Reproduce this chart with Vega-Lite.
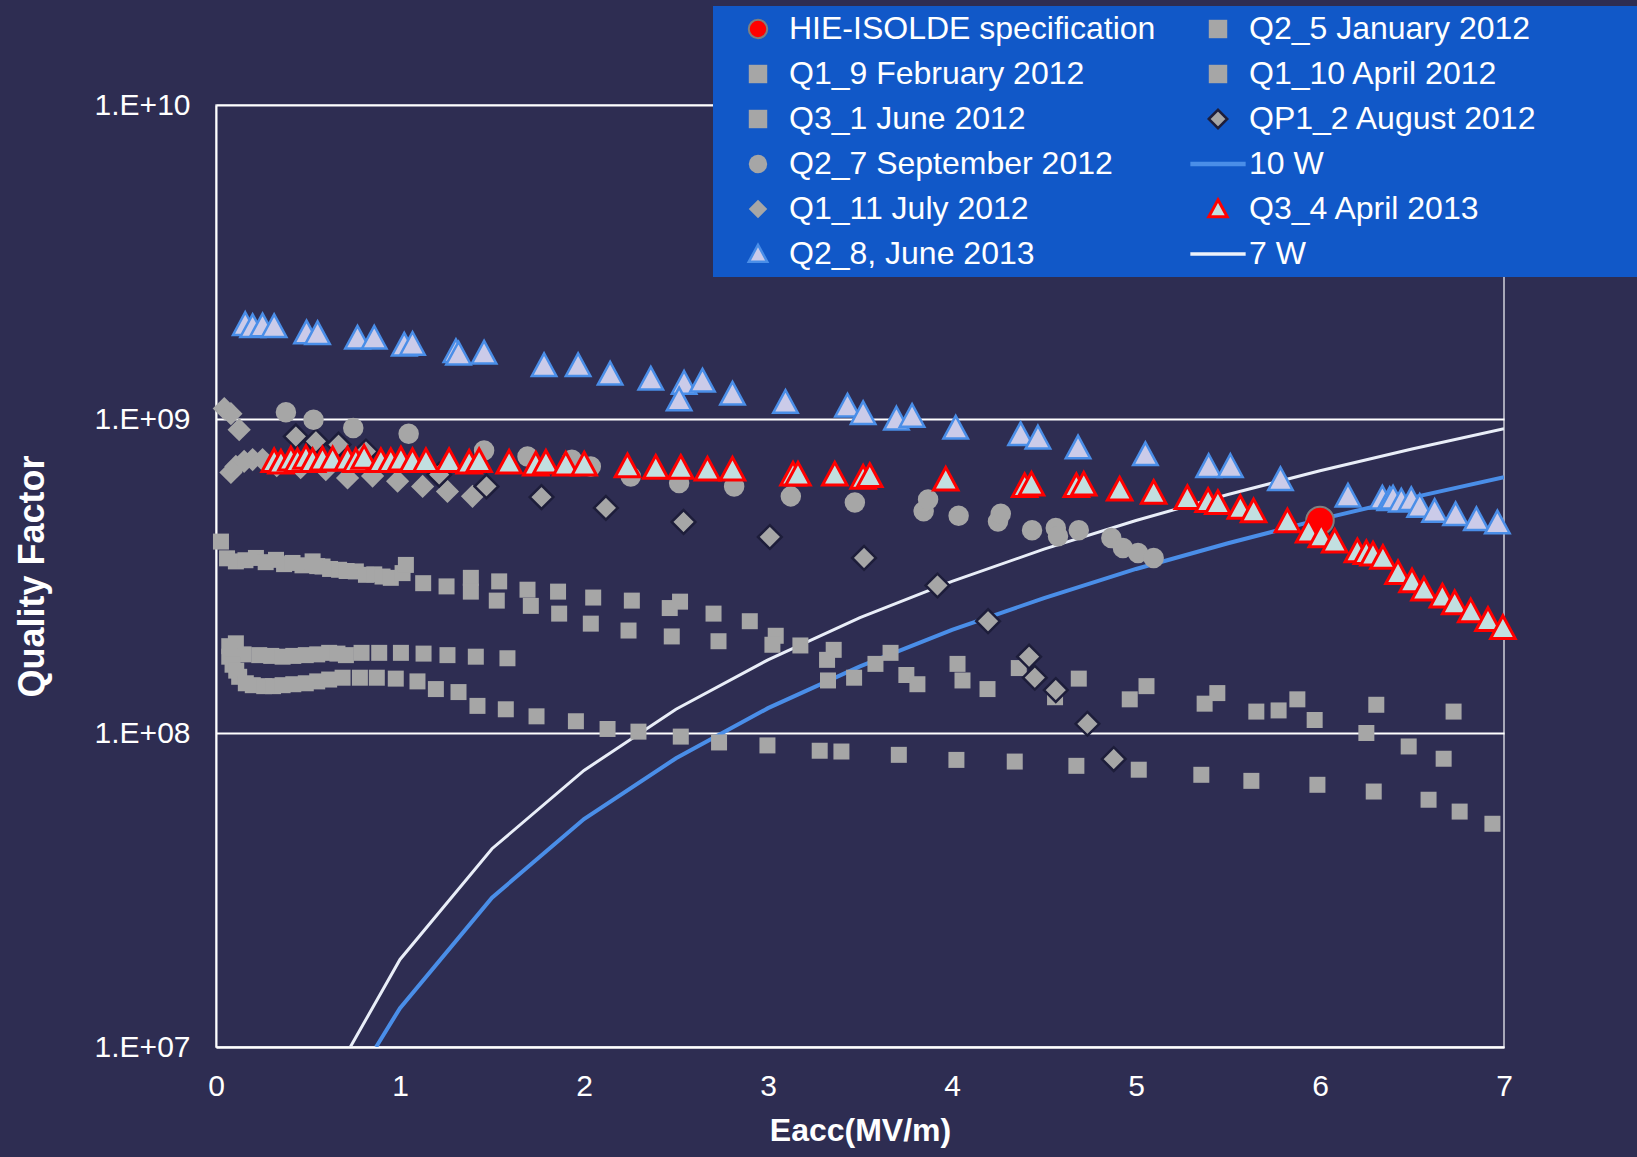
{
  "$schema": "https://vega.github.io/schema/vega-lite/v6.json",
  "width": 1288,
  "height": 942,
  "autosize": "none",
  "padding": {"left": 216, "top": 105, "right": 133, "bottom": 110},
  "background": "#2e2d52",
  "config": {
    "font": "Liberation Sans",
    "view": {"stroke": "#cfd0da", "strokeWidth": 1.5},
    "legend": {
      "orient": "none",
      "legendX": 497,
      "legendY": -99,
      "columns": 2,
      "columnPadding": 24,
      "rowPadding": 13,
      "fillColor": "#1158c8",
      "padding": 7,
      "labelFont": "Liberation Sans",
      "labelFontSize": 32,
      "labelColor": "#ffffff",
      "labelOffset": 15,
      "symbolOffset": 22,
      "symbolSize": 340,
      "labelLimit": 1000,
      "symbolOpacity": 1
    }
  },
  "datasets": {
    "w10": [
      {"E": 0.87, "Q": 1.0e7}, {"E": 1, "Q": 1.33e7}, {"E": 1.5, "Q": 2.99e7}, {"E": 2, "Q": 5.32e7},
      {"E": 2.5, "Q": 8.31e7}, {"E": 3, "Q": 1.2e8}, {"E": 3.5, "Q": 1.63e8}, {"E": 4, "Q": 2.13e8},
      {"E": 4.5, "Q": 2.69e8}, {"E": 5, "Q": 3.33e8}, {"E": 5.5, "Q": 4.02e8}, {"E": 6, "Q": 4.79e8},
      {"E": 6.5, "Q": 5.62e8}, {"E": 7, "Q": 6.52e8}
    ],
    "w7": [
      {"E": 0.73, "Q": 1.0e7}, {"E": 1, "Q": 1.9e7}, {"E": 1.5, "Q": 4.28e7}, {"E": 2, "Q": 7.6e7},
      {"E": 2.5, "Q": 1.19e8}, {"E": 3, "Q": 1.71e8}, {"E": 3.5, "Q": 2.33e8}, {"E": 4, "Q": 3.04e8},
      {"E": 4.5, "Q": 3.85e8}, {"E": 5, "Q": 4.75e8}, {"E": 5.5, "Q": 5.75e8}, {"E": 6, "Q": 6.84e8},
      {"E": 6.5, "Q": 8.03e8}, {"E": 7, "Q": 9.31e8}
    ],
    "pts": [
      {"s": "Q2_5 January 2012", "E": 0.027, "Q": 4.07e8},
      {"s": "Q2_5 January 2012", "E": 0.06, "Q": 3.6e8},
      {"s": "Q2_5 January 2012", "E": 0.108, "Q": 3.52e8},
      {"s": "Q2_5 January 2012", "E": 0.16, "Q": 3.55e8},
      {"s": "Q2_5 January 2012", "E": 0.217, "Q": 3.61e8},
      {"s": "Q2_5 January 2012", "E": 0.27, "Q": 3.5e8},
      {"s": "Q2_5 January 2012", "E": 0.326, "Q": 3.56e8},
      {"s": "Q2_5 January 2012", "E": 0.37, "Q": 3.45e8},
      {"s": "Q2_5 January 2012", "E": 0.416, "Q": 3.48e8},
      {"s": "Q2_5 January 2012", "E": 0.47, "Q": 3.42e8},
      {"s": "Q2_5 January 2012", "E": 0.525, "Q": 3.52e8},
      {"s": "Q2_5 January 2012", "E": 0.55, "Q": 3.4e8},
      {"s": "Q2_5 January 2012", "E": 0.579, "Q": 3.39e8},
      {"s": "Q2_5 January 2012", "E": 0.62, "Q": 3.33e8},
      {"s": "Q2_5 January 2012", "E": 0.669, "Q": 3.31e8},
      {"s": "Q2_5 January 2012", "E": 0.71, "Q": 3.28e8},
      {"s": "Q2_5 January 2012", "E": 0.76, "Q": 3.27e8},
      {"s": "Q2_5 January 2012", "E": 0.815, "Q": 3.19e8},
      {"s": "Q2_5 January 2012", "E": 0.86, "Q": 3.2e8},
      {"s": "Q2_5 January 2012", "E": 0.905, "Q": 3.15e8},
      {"s": "Q2_5 January 2012", "E": 0.95, "Q": 3.12e8},
      {"s": "Q2_5 January 2012", "E": 1.014, "Q": 3.23e8},
      {"s": "Q2_5 January 2012", "E": 1.032, "Q": 3.43e8},
      {"s": "Q2_5 January 2012", "E": 1.126, "Q": 3.0e8},
      {"s": "Q2_5 January 2012", "E": 1.253, "Q": 2.93e8},
      {"s": "Q2_5 January 2012", "E": 1.385, "Q": 3.12e8},
      {"s": "Q2_5 January 2012", "E": 1.539, "Q": 3.04e8},
      {"s": "Q2_5 January 2012", "E": 1.693, "Q": 2.86e8},
      {"s": "Q2_5 January 2012", "E": 1.859, "Q": 2.82e8},
      {"s": "Q2_5 January 2012", "E": 2.05, "Q": 2.7e8},
      {"s": "Q2_5 January 2012", "E": 2.26, "Q": 2.64e8},
      {"s": "Q2_5 January 2012", "E": 2.466, "Q": 2.5e8},
      {"s": "Q2_5 January 2012", "E": 2.522, "Q": 2.62e8},
      {"s": "Q2_5 January 2012", "E": 2.704, "Q": 2.4e8},
      {"s": "Q2_5 January 2012", "E": 2.901, "Q": 2.27e8},
      {"s": "Q2_5 January 2012", "E": 3.042, "Q": 2.04e8},
      {"s": "Q2_5 January 2012", "E": 3.176, "Q": 1.9e8},
      {"s": "Q2_5 January 2012", "E": 3.357, "Q": 1.84e8},
      {"s": "Q2_5 January 2012", "E": 3.584, "Q": 1.66e8},
      {"s": "Q2_5 January 2012", "E": 3.666, "Q": 1.8e8},
      {"s": "Q2_5 January 2012", "E": 4.03, "Q": 1.66e8},
      {"s": "Q2_5 January 2012", "E": 4.363, "Q": 1.61e8},
      {"s": "Q1_10 April 2012", "E": 1.385, "Q": 2.82e8},
      {"s": "Q1_10 April 2012", "E": 1.526, "Q": 2.64e8},
      {"s": "Q1_10 April 2012", "E": 1.711, "Q": 2.54e8},
      {"s": "Q1_10 April 2012", "E": 1.865, "Q": 2.4e8},
      {"s": "Q1_10 April 2012", "E": 2.037, "Q": 2.23e8},
      {"s": "Q1_10 April 2012", "E": 2.242, "Q": 2.12e8},
      {"s": "Q1_10 April 2012", "E": 2.477, "Q": 2.03e8},
      {"s": "Q1_10 April 2012", "E": 2.731, "Q": 1.96e8},
      {"s": "Q1_10 April 2012", "E": 3.024, "Q": 1.91e8},
      {"s": "Q1_10 April 2012", "E": 3.321, "Q": 1.71e8},
      {"s": "Q1_10 April 2012", "E": 3.326, "Q": 1.47e8},
      {"s": "Q1_10 April 2012", "E": 3.468, "Q": 1.5e8},
      {"s": "Q1_10 April 2012", "E": 3.752, "Q": 1.53e8},
      {"s": "Q1_10 April 2012", "E": 3.812, "Q": 1.43e8},
      {"s": "Q1_10 April 2012", "E": 4.057, "Q": 1.47e8},
      {"s": "Q1_10 April 2012", "E": 4.193, "Q": 1.38e8},
      {"s": "Q1_10 April 2012", "E": 4.56, "Q": 1.3e8},
      {"s": "Q1_10 April 2012", "E": 4.689, "Q": 1.49e8},
      {"s": "Q1_10 April 2012", "E": 4.966, "Q": 1.28e8},
      {"s": "Q1_10 April 2012", "E": 5.057, "Q": 1.41e8},
      {"s": "Q1_10 April 2012", "E": 5.373, "Q": 1.24e8},
      {"s": "Q1_10 April 2012", "E": 5.442, "Q": 1.34e8},
      {"s": "Q1_10 April 2012", "E": 5.654, "Q": 1.17e8},
      {"s": "Q1_10 April 2012", "E": 5.775, "Q": 1.18e8},
      {"s": "Q1_10 April 2012", "E": 5.877, "Q": 1.28e8},
      {"s": "Q1_10 April 2012", "E": 5.971, "Q": 1.1e8},
      {"s": "Q1_10 April 2012", "E": 6.252, "Q": 1.0e8},
      {"s": "Q1_10 April 2012", "E": 6.306, "Q": 1.23e8},
      {"s": "Q1_10 April 2012", "E": 6.482, "Q": 9.06e7},
      {"s": "Q1_10 April 2012", "E": 6.672, "Q": 8.28e7},
      {"s": "Q1_10 April 2012", "E": 6.726, "Q": 1.17e8},
      {"s": "Q1_9 February 2012", "E": 0.072, "Q": 1.89e8},
      {"s": "Q1_9 February 2012", "E": 0.108, "Q": 1.93e8},
      {"s": "Q1_9 February 2012", "E": 0.15, "Q": 1.78e8},
      {"s": "Q1_9 February 2012", "E": 0.235, "Q": 1.77e8},
      {"s": "Q1_9 February 2012", "E": 0.3, "Q": 1.76e8},
      {"s": "Q1_9 February 2012", "E": 0.362, "Q": 1.75e8},
      {"s": "Q1_9 February 2012", "E": 0.42, "Q": 1.76e8},
      {"s": "Q1_9 February 2012", "E": 0.488, "Q": 1.77e8},
      {"s": "Q1_9 February 2012", "E": 0.55, "Q": 1.78e8},
      {"s": "Q1_9 February 2012", "E": 0.615, "Q": 1.8e8},
      {"s": "Q1_9 February 2012", "E": 0.66, "Q": 1.79e8},
      {"s": "Q1_9 February 2012", "E": 0.706, "Q": 1.77e8},
      {"s": "Q1_9 February 2012", "E": 0.791, "Q": 1.8e8},
      {"s": "Q1_9 February 2012", "E": 0.887, "Q": 1.8e8},
      {"s": "Q1_9 February 2012", "E": 1.005, "Q": 1.8e8},
      {"s": "Q1_9 February 2012", "E": 1.128, "Q": 1.79e8},
      {"s": "Q1_9 February 2012", "E": 1.258, "Q": 1.77e8},
      {"s": "Q1_9 February 2012", "E": 1.412, "Q": 1.75e8},
      {"s": "Q1_9 February 2012", "E": 1.584, "Q": 1.73e8},
      {"s": "Q3_1 June 2012", "E": 0.072, "Q": 1.75e8},
      {"s": "Q3_1 June 2012", "E": 0.09, "Q": 1.65e8},
      {"s": "Q3_1 June 2012", "E": 0.11, "Q": 1.58e8},
      {"s": "Q3_1 June 2012", "E": 0.126, "Q": 1.51e8},
      {"s": "Q3_1 June 2012", "E": 0.162, "Q": 1.44e8},
      {"s": "Q3_1 June 2012", "E": 0.2, "Q": 1.42e8},
      {"s": "Q3_1 June 2012", "E": 0.262, "Q": 1.41e8},
      {"s": "Q3_1 June 2012", "E": 0.31, "Q": 1.41e8},
      {"s": "Q3_1 June 2012", "E": 0.362, "Q": 1.42e8},
      {"s": "Q3_1 June 2012", "E": 0.42, "Q": 1.43e8},
      {"s": "Q3_1 June 2012", "E": 0.488, "Q": 1.44e8},
      {"s": "Q3_1 June 2012", "E": 0.55, "Q": 1.46e8},
      {"s": "Q3_1 June 2012", "E": 0.615, "Q": 1.48e8},
      {"s": "Q3_1 June 2012", "E": 0.688, "Q": 1.5e8},
      {"s": "Q3_1 June 2012", "E": 0.782, "Q": 1.5e8},
      {"s": "Q3_1 June 2012", "E": 0.874, "Q": 1.5e8},
      {"s": "Q3_1 June 2012", "E": 0.977, "Q": 1.49e8},
      {"s": "Q3_1 June 2012", "E": 1.095, "Q": 1.46e8},
      {"s": "Q3_1 June 2012", "E": 1.195, "Q": 1.38e8},
      {"s": "Q3_1 June 2012", "E": 1.318, "Q": 1.35e8},
      {"s": "Q3_1 June 2012", "E": 1.421, "Q": 1.22e8},
      {"s": "Q3_1 June 2012", "E": 1.575, "Q": 1.19e8},
      {"s": "Q3_1 June 2012", "E": 1.742, "Q": 1.13e8},
      {"s": "Q3_1 June 2012", "E": 1.956, "Q": 1.09e8},
      {"s": "Q3_1 June 2012", "E": 2.128, "Q": 1.03e8},
      {"s": "Q3_1 June 2012", "E": 2.296, "Q": 1.01e8},
      {"s": "Q3_1 June 2012", "E": 2.526, "Q": 9.74e7},
      {"s": "Q3_1 June 2012", "E": 2.734, "Q": 9.33e7},
      {"s": "Q3_1 June 2012", "E": 2.997, "Q": 9.13e7},
      {"s": "Q3_1 June 2012", "E": 3.281, "Q": 8.78e7},
      {"s": "Q3_1 June 2012", "E": 3.399, "Q": 8.73e7},
      {"s": "Q3_1 June 2012", "E": 3.711, "Q": 8.52e7},
      {"s": "Q3_1 June 2012", "E": 4.024, "Q": 8.21e7},
      {"s": "Q3_1 June 2012", "E": 4.341, "Q": 8.11e7},
      {"s": "Q3_1 June 2012", "E": 4.676, "Q": 7.86e7},
      {"s": "Q3_1 June 2012", "E": 5.015, "Q": 7.64e7},
      {"s": "Q3_1 June 2012", "E": 5.355, "Q": 7.36e7},
      {"s": "Q3_1 June 2012", "E": 5.627, "Q": 7.04e7},
      {"s": "Q3_1 June 2012", "E": 5.986, "Q": 6.84e7},
      {"s": "Q3_1 June 2012", "E": 6.292, "Q": 6.51e7},
      {"s": "Q3_1 June 2012", "E": 6.59, "Q": 6.13e7},
      {"s": "Q3_1 June 2012", "E": 6.759, "Q": 5.62e7},
      {"s": "Q3_1 June 2012", "E": 6.937, "Q": 5.14e7},
      {"s": "Q1_11 July 2012", "E": 0.045, "Q": 1.08e9},
      {"s": "Q1_11 July 2012", "E": 0.081, "Q": 1.04e9},
      {"s": "Q1_11 July 2012", "E": 0.126, "Q": 9.25e8},
      {"s": "Q1_11 July 2012", "E": 0.081, "Q": 6.76e8},
      {"s": "Q1_11 July 2012", "E": 0.108, "Q": 7.06e8},
      {"s": "Q1_11 July 2012", "E": 0.153, "Q": 7.33e8},
      {"s": "Q1_11 July 2012", "E": 0.199, "Q": 7.43e8},
      {"s": "Q1_11 July 2012", "E": 0.253, "Q": 7.43e8},
      {"s": "Q1_11 July 2012", "E": 0.33, "Q": 7.1e8},
      {"s": "Q1_11 July 2012", "E": 0.46, "Q": 7.0e8},
      {"s": "Q1_11 July 2012", "E": 0.597, "Q": 6.9e8},
      {"s": "Q1_11 July 2012", "E": 0.715, "Q": 6.49e8},
      {"s": "Q1_11 July 2012", "E": 0.851, "Q": 6.58e8},
      {"s": "Q1_11 July 2012", "E": 0.987, "Q": 6.34e8},
      {"s": "Q1_11 July 2012", "E": 1.123, "Q": 6.1e8},
      {"s": "Q1_11 July 2012", "E": 1.258, "Q": 5.88e8},
      {"s": "Q1_11 July 2012", "E": 1.394, "Q": 5.67e8},
      {"s": "QP1_2 August 2012", "E": 0.434, "Q": 8.8e8},
      {"s": "QP1_2 August 2012", "E": 0.543, "Q": 8.49e8},
      {"s": "QP1_2 August 2012", "E": 0.666, "Q": 8.29e8},
      {"s": "QP1_2 August 2012", "E": 0.815, "Q": 7.88e8},
      {"s": "QP1_2 August 2012", "E": 1.213, "Q": 6.65e8},
      {"s": "QP1_2 August 2012", "E": 1.47, "Q": 6.1e8},
      {"s": "QP1_2 August 2012", "E": 1.769, "Q": 5.64e8},
      {"s": "QP1_2 August 2012", "E": 2.119, "Q": 5.21e8},
      {"s": "QP1_2 August 2012", "E": 2.541, "Q": 4.7e8},
      {"s": "QP1_2 August 2012", "E": 3.01, "Q": 4.21e8},
      {"s": "QP1_2 August 2012", "E": 3.522, "Q": 3.61e8},
      {"s": "QP1_2 August 2012", "E": 3.921, "Q": 2.95e8},
      {"s": "QP1_2 August 2012", "E": 4.196, "Q": 2.27e8},
      {"s": "QP1_2 August 2012", "E": 4.419, "Q": 1.75e8},
      {"s": "QP1_2 August 2012", "E": 4.45, "Q": 1.5e8},
      {"s": "QP1_2 August 2012", "E": 4.564, "Q": 1.37e8},
      {"s": "QP1_2 August 2012", "E": 4.736, "Q": 1.07e8},
      {"s": "QP1_2 August 2012", "E": 4.879, "Q": 8.26e7},
      {"s": "Q2_7 September 2012", "E": 0.38, "Q": 1.05e9},
      {"s": "Q2_7 September 2012", "E": 0.53, "Q": 9.95e8},
      {"s": "Q2_7 September 2012", "E": 0.746, "Q": 9.36e8},
      {"s": "Q2_7 September 2012", "E": 1.047, "Q": 8.98e8},
      {"s": "Q2_7 September 2012", "E": 1.457, "Q": 7.94e8},
      {"s": "Q2_7 September 2012", "E": 1.693, "Q": 7.6e8},
      {"s": "Q2_7 September 2012", "E": 1.934, "Q": 7.42e8},
      {"s": "Q2_7 September 2012", "E": 2.037, "Q": 7.06e8},
      {"s": "Q2_7 September 2012", "E": 2.254, "Q": 6.56e8},
      {"s": "Q2_7 September 2012", "E": 2.517, "Q": 6.25e8},
      {"s": "Q2_7 September 2012", "E": 2.816, "Q": 6.1e8},
      {"s": "Q2_7 September 2012", "E": 3.124, "Q": 5.67e8},
      {"s": "Q2_7 September 2012", "E": 3.472, "Q": 5.42e8},
      {"s": "Q2_7 September 2012", "E": 3.846, "Q": 5.08e8},
      {"s": "Q2_7 September 2012", "E": 3.87, "Q": 5.54e8},
      {"s": "Q2_7 September 2012", "E": 4.036, "Q": 4.92e8},
      {"s": "Q2_7 September 2012", "E": 4.25, "Q": 4.72e8},
      {"s": "Q2_7 September 2012", "E": 4.265, "Q": 4.99e8},
      {"s": "Q2_7 September 2012", "E": 4.435, "Q": 4.42e8},
      {"s": "Q2_7 September 2012", "E": 4.564, "Q": 4.5e8},
      {"s": "Q2_7 September 2012", "E": 4.576, "Q": 4.23e8},
      {"s": "Q2_7 September 2012", "E": 4.689, "Q": 4.42e8},
      {"s": "Q2_7 September 2012", "E": 4.866, "Q": 4.18e8},
      {"s": "Q2_7 September 2012", "E": 4.929, "Q": 3.88e8},
      {"s": "Q2_7 September 2012", "E": 5.011, "Q": 3.74e8},
      {"s": "Q2_7 September 2012", "E": 5.096, "Q": 3.61e8},
      {"s": "HIE-ISOLDE specification", "E": 6.0, "Q": 4.75e8},
      {"s": "Q2_8, June 2013", "E": 0.159, "Q": 2.0e9},
      {"s": "Q2_8, June 2013", "E": 0.199, "Q": 1.97e9},
      {"s": "Q2_8, June 2013", "E": 0.253, "Q": 1.98e9},
      {"s": "Q2_8, June 2013", "E": 0.316, "Q": 1.97e9},
      {"s": "Q2_8, June 2013", "E": 0.492, "Q": 1.88e9},
      {"s": "Q2_8, June 2013", "E": 0.552, "Q": 1.87e9},
      {"s": "Q2_8, June 2013", "E": 0.769, "Q": 1.81e9},
      {"s": "Q2_8, June 2013", "E": 0.86, "Q": 1.81e9},
      {"s": "Q2_8, June 2013", "E": 1.023, "Q": 1.72e9},
      {"s": "Q2_8, June 2013", "E": 1.068, "Q": 1.73e9},
      {"s": "Q2_8, June 2013", "E": 1.304, "Q": 1.64e9},
      {"s": "Q2_8, June 2013", "E": 1.318, "Q": 1.61e9},
      {"s": "Q2_8, June 2013", "E": 1.457, "Q": 1.62e9},
      {"s": "Q2_8, June 2013", "E": 1.783, "Q": 1.48e9},
      {"s": "Q2_8, June 2013", "E": 1.968, "Q": 1.48e9},
      {"s": "Q2_8, June 2013", "E": 2.142, "Q": 1.39e9},
      {"s": "Q2_8, June 2013", "E": 2.363, "Q": 1.34e9},
      {"s": "Q2_8, June 2013", "E": 2.544, "Q": 1.3e9},
      {"s": "Q2_8, June 2013", "E": 2.517, "Q": 1.15e9},
      {"s": "Q2_8, June 2013", "E": 2.644, "Q": 1.32e9},
      {"s": "Q2_8, June 2013", "E": 2.807, "Q": 1.2e9},
      {"s": "Q2_8, June 2013", "E": 3.095, "Q": 1.13e9},
      {"s": "Q2_8, June 2013", "E": 3.432, "Q": 1.1e9},
      {"s": "Q2_8, June 2013", "E": 3.517, "Q": 1.04e9},
      {"s": "Q2_8, June 2013", "E": 3.698, "Q": 1.0e9},
      {"s": "Q2_8, June 2013", "E": 3.783, "Q": 1.02e9},
      {"s": "Q2_8, June 2013", "E": 4.02, "Q": 9.35e8},
      {"s": "Q2_8, June 2013", "E": 4.373, "Q": 8.92e8},
      {"s": "Q2_8, June 2013", "E": 4.467, "Q": 8.7e8},
      {"s": "Q2_8, June 2013", "E": 4.685, "Q": 8.09e8},
      {"s": "Q2_8, June 2013", "E": 5.051, "Q": 7.7e8},
      {"s": "Q2_8, June 2013", "E": 5.395, "Q": 7.06e8},
      {"s": "Q2_8, June 2013", "E": 5.513, "Q": 7.06e8},
      {"s": "Q2_8, June 2013", "E": 5.785, "Q": 6.41e8},
      {"s": "Q2_8, June 2013", "E": 6.152, "Q": 5.68e8},
      {"s": "Q2_8, June 2013", "E": 6.339, "Q": 5.6e8},
      {"s": "Q2_8, June 2013", "E": 6.379, "Q": 5.54e8},
      {"s": "Q2_8, June 2013", "E": 6.397, "Q": 5.6e8},
      {"s": "Q2_8, June 2013", "E": 6.442, "Q": 5.48e8},
      {"s": "Q2_8, June 2013", "E": 6.496, "Q": 5.54e8},
      {"s": "Q2_8, June 2013", "E": 6.542, "Q": 5.27e8},
      {"s": "Q2_8, June 2013", "E": 6.623, "Q": 5.08e8},
      {"s": "Q2_8, June 2013", "E": 6.737, "Q": 4.96e8},
      {"s": "Q2_8, June 2013", "E": 6.85, "Q": 4.78e8},
      {"s": "Q2_8, June 2013", "E": 6.964, "Q": 4.67e8},
      {"s": "Q3_4 April 2013", "E": 0.316, "Q": 7.34e8},
      {"s": "Q3_4 April 2013", "E": 0.353, "Q": 7.26e8},
      {"s": "Q3_4 April 2013", "E": 0.407, "Q": 7.43e8},
      {"s": "Q3_4 April 2013", "E": 0.443, "Q": 7.34e8},
      {"s": "Q3_4 April 2013", "E": 0.489, "Q": 7.52e8},
      {"s": "Q3_4 April 2013", "E": 0.525, "Q": 7.34e8},
      {"s": "Q3_4 April 2013", "E": 0.579, "Q": 7.43e8},
      {"s": "Q3_4 April 2013", "E": 0.634, "Q": 7.43e8},
      {"s": "Q3_4 April 2013", "E": 0.715, "Q": 7.43e8},
      {"s": "Q3_4 April 2013", "E": 0.76, "Q": 7.34e8},
      {"s": "Q3_4 April 2013", "E": 0.805, "Q": 7.52e8},
      {"s": "Q3_4 April 2013", "E": 0.896, "Q": 7.34e8},
      {"s": "Q3_4 April 2013", "E": 0.95, "Q": 7.34e8},
      {"s": "Q3_4 April 2013", "E": 1.005, "Q": 7.43e8},
      {"s": "Q3_4 April 2013", "E": 1.068, "Q": 7.34e8},
      {"s": "Q3_4 April 2013", "E": 1.141, "Q": 7.34e8},
      {"s": "Q3_4 April 2013", "E": 1.267, "Q": 7.34e8},
      {"s": "Q3_4 April 2013", "E": 1.376, "Q": 7.26e8},
      {"s": "Q3_4 April 2013", "E": 1.43, "Q": 7.34e8},
      {"s": "Q3_4 April 2013", "E": 1.593, "Q": 7.26e8},
      {"s": "Q3_4 April 2013", "E": 1.738, "Q": 7.16e8},
      {"s": "Q3_4 April 2013", "E": 1.793, "Q": 7.26e8},
      {"s": "Q3_4 April 2013", "E": 1.901, "Q": 7.16e8},
      {"s": "Q3_4 April 2013", "E": 2.001, "Q": 7.16e8},
      {"s": "Q3_4 April 2013", "E": 2.236, "Q": 7.07e8},
      {"s": "Q3_4 April 2013", "E": 2.39, "Q": 6.99e8},
      {"s": "Q3_4 April 2013", "E": 2.526, "Q": 6.99e8},
      {"s": "Q3_4 April 2013", "E": 2.671, "Q": 6.9e8},
      {"s": "Q3_4 April 2013", "E": 2.807, "Q": 6.9e8},
      {"s": "Q3_4 April 2013", "E": 3.136, "Q": 6.65e8},
      {"s": "Q3_4 April 2013", "E": 3.163, "Q": 6.65e8},
      {"s": "Q3_4 April 2013", "E": 3.363, "Q": 6.65e8},
      {"s": "Q3_4 April 2013", "E": 3.517, "Q": 6.5e8},
      {"s": "Q3_4 April 2013", "E": 3.553, "Q": 6.58e8},
      {"s": "Q3_4 April 2013", "E": 3.966, "Q": 6.41e8},
      {"s": "Q3_4 April 2013", "E": 4.395, "Q": 6.11e8},
      {"s": "Q3_4 April 2013", "E": 4.432, "Q": 6.18e8},
      {"s": "Q3_4 April 2013", "E": 4.676, "Q": 6.11e8},
      {"s": "Q3_4 April 2013", "E": 4.716, "Q": 6.18e8},
      {"s": "Q3_4 April 2013", "E": 4.911, "Q": 5.96e8},
      {"s": "Q3_4 April 2013", "E": 5.096, "Q": 5.82e8},
      {"s": "Q3_4 April 2013", "E": 5.279, "Q": 5.6e8},
      {"s": "Q3_4 April 2013", "E": 5.392, "Q": 5.48e8},
      {"s": "Q3_4 April 2013", "E": 5.445, "Q": 5.4e8},
      {"s": "Q3_4 April 2013", "E": 5.567, "Q": 5.21e8},
      {"s": "Q3_4 April 2013", "E": 5.639, "Q": 5.08e8},
      {"s": "Q3_4 April 2013", "E": 5.823, "Q": 4.72e8},
      {"s": "Q3_4 April 2013", "E": 5.938, "Q": 4.38e8},
      {"s": "Q3_4 April 2013", "E": 6.007, "Q": 4.23e8},
      {"s": "Q3_4 April 2013", "E": 6.08, "Q": 4.07e8},
      {"s": "Q3_4 April 2013", "E": 6.203, "Q": 3.79e8},
      {"s": "Q3_4 April 2013", "E": 6.252, "Q": 3.74e8},
      {"s": "Q3_4 April 2013", "E": 6.288, "Q": 3.7e8},
      {"s": "Q3_4 April 2013", "E": 6.342, "Q": 3.61e8},
      {"s": "Q3_4 April 2013", "E": 6.424, "Q": 3.23e8},
      {"s": "Q3_4 April 2013", "E": 6.5, "Q": 3.04e8},
      {"s": "Q3_4 April 2013", "E": 6.565, "Q": 2.86e8},
      {"s": "Q3_4 April 2013", "E": 6.665, "Q": 2.72e8},
      {"s": "Q3_4 April 2013", "E": 6.732, "Q": 2.59e8},
      {"s": "Q3_4 April 2013", "E": 6.819, "Q": 2.44e8},
      {"s": "Q3_4 April 2013", "E": 6.913, "Q": 2.29e8},
      {"s": "Q3_4 April 2013", "E": 6.994, "Q": 2.16e8}
    ]
  },
  "encoding": {
    "x": {
      "field": "E", "type": "quantitative",
      "scale": {"domain": [0, 7], "nice": false, "zero": false},
      "axis": {
        "values": [0, 1, 2, 3, 4, 5, 6, 7], "format": "d", "title": "Eacc(MV/m)",
        "grid": false, "ticks": false, "domainColor": "#ffffff", "domainWidth": 2,
        "labelFont": "Liberation Sans", "labelFontSize": 30, "labelColor": "#ffffff", "labelPadding": 24,
        "labelFlush": false, "labelOverlap": false,
        "titleFont": "Liberation Sans", "titleFontSize": 32, "titleFontWeight": "bold", "titleColor": "#ffffff", "titlePadding": 14
      }
    },
    "y": {
      "field": "Q", "type": "quantitative",
      "scale": {"type": "log", "domain": [1e7, 1e10], "nice": false},
      "axis": {
        "values": [1e7, 1e8, 1e9, 1e10],
        "labelExpr": "datum.value >= 5e9 ? '1.E+10' : datum.value >= 5e8 ? '1.E+09' : datum.value >= 5e7 ? '1.E+08' : '1.E+07'",
        "title": "Quality Factor",
        "grid": true, "gridColor": "#ffffff", "gridWidth": 2, "gridOpacity": 1,
        "ticks": false, "domainColor": "#ffffff", "domainWidth": 2,
        "labelFont": "Liberation Sans", "labelFontSize": 30, "labelColor": "#ffffff", "labelPadding": 26,
        "labelFlush": false, "labelOverlap": false,
        "titleFont": "Liberation Sans", "titleFontSize": 36, "titleFontWeight": "bold", "titleColor": "#ffffff", "titlePadding": 43
      }
    }
  },
  "layer": [
    {
      "data": {"name": "w10"},
      "mark": {"type": "line", "color": "#4a8ee8", "strokeWidth": 4, "clip": true},
      "encoding": {}
    },
    {
      "data": {"name": "w7"},
      "mark": {"type": "line", "color": "#e9eef8", "strokeWidth": 3, "clip": true},
      "encoding": {}
    },
    {
      "data": {"name": "pts"},
      "mark": {"type": "point", "filled": true, "opacity": 1, "clip": false},
      "encoding": {
        "shape": {
          "field": "s", "type": "nominal", "title": null,
          "scale": {
            "domain": ["HIE-ISOLDE specification", "Q1_9 February 2012", "Q3_1 June 2012", "Q2_7 September 2012", "Q1_11 July 2012", "Q2_8, June 2013", "Q2_5 January 2012", "Q1_10 April 2012", "QP1_2 August 2012", "10 W", "Q3_4 April 2013", "7 W"],
            "range": ["circle", "square", "square", "circle", "diamond", "M0,-1L1,0.85L-1,0.85Z", "square", "square", "diamond", "M-3,0H3", "M0,-1L1,0.85L-1,0.85Z", "M-3,0H3"]
          },
          "legend": {
            "labelExpr": "datum.label == 'QP1_2 August 2012' ? datum.label + '\u2800\u2800\u2800\u2800' : datum.label"
          }
        },
        "fill": {
          "field": "s", "type": "nominal", "title": null,
          "scale": {
            "domain": ["HIE-ISOLDE specification", "Q1_9 February 2012", "Q3_1 June 2012", "Q2_7 September 2012", "Q1_11 July 2012", "Q2_8, June 2013", "Q2_5 January 2012", "Q1_10 April 2012", "QP1_2 August 2012", "10 W", "Q3_4 April 2013", "7 W"],
            "range": ["#ff0000", "#a6a6a6", "#a6a6a6", "#a6a6a6", "#a6a6a6", "#cbcbe9", "#a6a6a6", "#a6a6a6", "#a6a6a6", "transparent", "#c2dfe0", "transparent"]
          },
          "legend": {
            "labelExpr": "datum.label == 'QP1_2 August 2012' ? datum.label + '\u2800\u2800\u2800\u2800' : datum.label"
          }
        },
        "stroke": {
          "field": "s", "type": "nominal", "title": null,
          "scale": {
            "domain": ["HIE-ISOLDE specification", "Q1_9 February 2012", "Q3_1 June 2012", "Q2_7 September 2012", "Q1_11 July 2012", "Q2_8, June 2013", "Q2_5 January 2012", "Q1_10 April 2012", "QP1_2 August 2012", "10 W", "Q3_4 April 2013", "7 W"],
            "range": ["#7f7f7f", "#a6a6a6", "#a6a6a6", "#a6a6a6", "#a6a6a6", "#4a8ee8", "#a6a6a6", "#a6a6a6", "#1d1d3a", "#4a8ee8", "#ff0000", "#eef2fa"]
          },
          "legend": {
            "labelExpr": "datum.label == 'QP1_2 August 2012' ? datum.label + '\u2800\u2800\u2800\u2800' : datum.label"
          }
        },
        "size": {
          "field": "s", "type": "nominal", "legend": null,
          "scale": {
            "type": "ordinal",
            "domain": ["7 W", "Q3_4 April 2013", "10 W", "QP1_2 August 2012", "Q1_10 April 2012", "Q2_5 January 2012", "Q2_8, June 2013", "Q1_11 July 2012", "Q2_7 September 2012", "Q3_1 June 2012", "Q1_9 February 2012", "HIE-ISOLDE specification"],
            "range": [300, 600, 300, 560, 256, 256, 600, 540, 420, 256, 256, 760]
          }
        },
        "strokeWidth": {
          "field": "s", "type": "nominal", "title": null,
          "scale": {
            "type": "ordinal",
            "domain": ["HIE-ISOLDE specification", "Q1_9 February 2012", "Q3_1 June 2012", "Q2_7 September 2012", "Q1_11 July 2012", "Q2_8, June 2013", "Q2_5 January 2012", "Q1_10 April 2012", "QP1_2 August 2012", "10 W", "Q3_4 April 2013", "7 W"],
            "range": [2, 0, 0, 0, 0, 2.5, 0, 0, 2.5, 4.5, 3, 3.5]
          },
          "legend": {
            "labelExpr": "datum.label == 'QP1_2 August 2012' ? datum.label + '\u2800\u2800\u2800\u2800' : datum.label"
          }
        }
      }
    }
  ]
}
